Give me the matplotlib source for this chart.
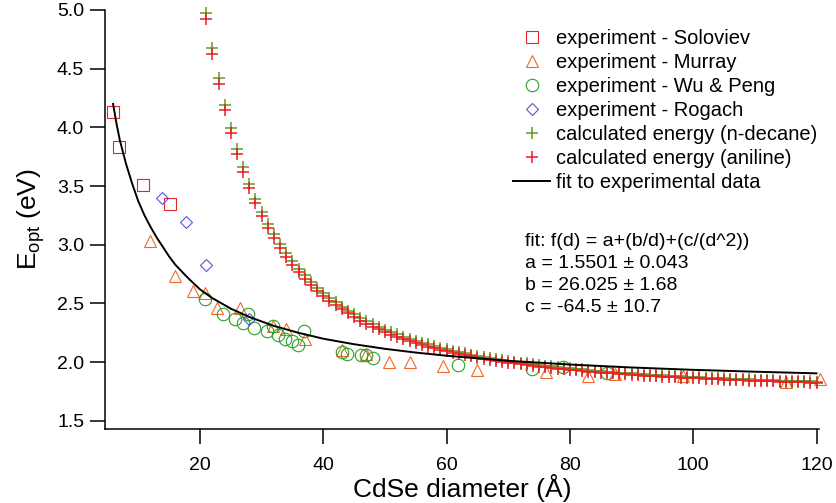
import matplotlib
matplotlib.use('Agg')
import matplotlib.pyplot as plt

plt.rcParams['font.family'] = ['Liberation Sans', 'DejaVu Sans']
plt.rcParams['mathtext.fontset'] = 'custom'
plt.rcParams['mathtext.rm'] = 'Liberation Sans'
plt.rcParams['mathtext.it'] = 'Liberation Sans:italic'

# ---------------- data ----------------
soloviev_d = [5.9, 6.9, 10.8, 15.1]
soloviev_e = [4.13, 3.83, 3.51, 3.35]

murray_d = [11.9, 15.9, 18.9, 20.8, 22.8, 26.5, 31.9, 33.9, 37.1, 43.1, 46.9,
            50.6, 54.0, 59.4, 64.9, 76.2, 83.0, 87.3, 98.4, 115.1, 120.5]
murray_e = [3.03, 2.73, 2.61, 2.59, 2.46, 2.46, 2.31, 2.28, 2.20, 2.10, 2.07,
            2.00, 2.00, 1.97, 1.93, 1.92, 1.88, 1.90, 1.88, 1.83, 1.855]

wupeng_d = [20.8, 23.7, 25.7, 27.0, 27.8, 28.8, 30.8, 31.8, 32.7, 33.8, 34.9,
            35.9, 36.9, 43.1, 43.8, 46.1, 46.9, 48.0, 61.9, 73.9, 78.8, 86.0]
wupeng_e = [2.54, 2.41, 2.37, 2.33, 2.41, 2.29, 2.27, 2.31, 2.23, 2.20, 2.18,
            2.15, 2.27, 2.09, 2.07, 2.06, 2.06, 2.04, 1.98, 1.94, 1.96, 1.91]

rogach_d = [13.8, 17.8, 20.9, 28.0]
rogach_e = [3.40, 3.19, 2.83, 2.37]

calc_d = [21, 22, 23, 24, 25, 26, 27, 28, 29, 30,
          31, 32, 33, 34, 35, 36, 37, 38, 39, 40,
          41, 42, 43, 44, 45, 46, 47, 48, 49, 50,
          51, 52, 53, 54, 55, 56, 57, 58, 59, 60,
          61, 62, 63, 64, 65, 66, 67, 68, 69, 70,
          71, 72, 73, 74, 75, 76, 77, 78, 79, 80,
          81, 82, 83, 84, 85, 86, 87, 88, 89, 90,
          91, 92, 93, 94, 95, 96, 97, 98, 99, 100,
          101, 102, 103, 104, 105, 106, 107, 108, 109, 110,
          111, 112, 113, 114, 115, 116, 117, 118, 119, 120]

decane_e = [4.972, 4.676, 4.417, 4.191, 3.992, 3.817, 3.659, 3.519, 3.393, 3.280,
            3.179, 3.088, 3.005, 2.930, 2.860, 2.797, 2.739, 2.685, 2.636, 2.590,
            2.548, 2.509, 2.473, 2.439, 2.407, 2.378, 2.350, 2.324, 2.300, 2.277,
            2.256, 2.236, 2.217, 2.199, 2.182, 2.166, 2.151, 2.137, 2.123, 2.110,
            2.098, 2.087, 2.076, 2.065, 2.055, 2.045, 2.036, 2.028, 2.019, 2.011,
            2.004, 1.996, 1.989, 1.983, 1.976, 1.970, 1.964, 1.959, 1.953, 1.948,
            1.943, 1.938, 1.933, 1.929, 1.924, 1.920, 1.916, 1.912, 1.908, 1.905,
            1.901, 1.898, 1.894, 1.891, 1.888, 1.885, 1.882, 1.880, 1.877, 1.874,
            1.872, 1.869, 1.867, 1.864, 1.862, 1.860, 1.858, 1.856, 1.854, 1.852,
            1.850, 1.848, 1.846, 1.844, 1.843, 1.841, 1.839, 1.838, 1.836, 1.835]

aniline_e = [4.922, 4.628, 4.371, 4.147, 3.950, 3.777, 3.620, 3.481, 3.357, 3.245,
             3.145, 3.055, 2.973, 2.899, 2.830, 2.768, 2.711, 2.657, 2.609, 2.564,
             2.522, 2.484, 2.449, 2.415, 2.384, 2.355, 2.328, 2.302, 2.279, 2.256,
             2.235, 2.216, 2.197, 2.180, 2.163, 2.147, 2.133, 2.119, 2.105, 2.093,
             2.081, 2.070, 2.059, 2.049, 2.039, 2.029, 2.020, 2.013, 2.004, 1.996,
             1.989, 1.982, 1.975, 1.969, 1.962, 1.956, 1.950, 1.945, 1.940, 1.935,
             1.930, 1.925, 1.920, 1.916, 1.912, 1.908, 1.904, 1.900, 1.896, 1.893,
             1.889, 1.886, 1.883, 1.880, 1.877, 1.874, 1.871, 1.869, 1.866, 1.864,
             1.862, 1.859, 1.857, 1.854, 1.852, 1.850, 1.848, 1.846, 1.844, 1.842,
             1.841, 1.839, 1.837, 1.835, 1.834, 1.832, 1.830, 1.829, 1.827, 1.826]

fit_d = [5.9, 6.5, 7, 8, 9, 10, 11, 12, 13, 14, 15, 16, 18, 20, 22, 25, 28,
         32, 36, 40, 45, 50, 55, 60, 70, 80, 90, 100, 110, 120]
fit_e = [4.20, 4.02, 3.89, 3.69, 3.52, 3.37, 3.25, 3.15, 3.06, 2.98, 2.90,
         2.83, 2.72, 2.62, 2.546, 2.456, 2.385, 2.309, 2.25, 2.20, 2.153,
         2.114, 2.082, 2.055, 2.012, 1.980, 1.955, 1.935, 1.919, 1.905]

x_ticks = [20, 40, 60, 80, 100, 120]
y_ticks = [1.5, 2.0, 2.5, 3.0, 3.5, 4.0, 4.5, 5.0]
y_tick_labels = ['1.5', '2.0', '2.5', '3.0', '3.5', '4.0', '4.5', '5.0']

fit_text = ['fit: f(d) = a+(b/d)+(c/(d^2))',
            'a = 1.5501 \u00b1 0.043',
            'b = 26.025 \u00b1 1.68',
            'c = -64.5 \u00b1 10.7']

# ---------------- figure ----------------
W, H = 836, 503
fig = plt.figure(figsize=(W / 100, H / 100), dpi=100)
ax = fig.add_axes([105 / W, 1 - 429 / H, (819 - 105) / W, (429 - 10) / H])

mew = 0.8
ax.plot(soloviev_d, soloviev_e, ls='none', marker='s', ms=8, mfc='none',
        mec='#e0262c', mew=mew, label='experiment - Soloviev', clip_on=False)
ax.plot(murray_d, murray_e, ls='none', marker='^', ms=8, mfc='none',
        mec='#ee6a28', mew=mew, label='experiment - Murray', clip_on=False)
ax.plot(wupeng_d, wupeng_e, ls='none', marker='o', ms=9, mfc='none',
        mec='#2e9e2a', mew=mew, label='experiment - Wu & Peng', clip_on=False)
ax.plot(rogach_d, rogach_e, ls='none', marker='D', ms=6, mfc='none',
        mec='#5656e0', mew=mew, label='experiment - Rogach', clip_on=False)
ax.plot(calc_d, decane_e, ls='none', marker='+', ms=8.6, mew=1.1,
        color='#5c9c24', label='calculated energy (n-decane)', clip_on=False)
ax.plot(calc_d, aniline_e, ls='none', marker='+', ms=8.6, mew=1.1,
        color='#ec1c24', label='calculated energy (aniline)', clip_on=False)
ax.plot(fit_d, fit_e, color='black', lw=1.4, label='fit to experimental data')

ax.set_xlim(4.59, 120.4)
ax.set_ylim(1.431, 5.0)
ax.set_xticks(x_ticks)
ax.set_xticklabels([str(t) for t in x_ticks])
ax.set_yticks(y_ticks)
ax.set_yticklabels(y_tick_labels)

for s in ['top', 'right']:
    ax.spines[s].set_visible(False)
for s in ['left', 'bottom']:
    ax.spines[s].set_linewidth(1.1)
ax.tick_params(axis='both', direction='out', length=11, width=1.1,
               labelsize=14, color='black')
ax.tick_params(axis='x', pad=9)
ax.tick_params(axis='y', pad=4)

ax.set_xlabel('CdSe diameter (\u00c5)', fontsize=19, labelpad=0)
ax.set_ylabel('E$_{\\mathrm{opt}}$ (eV)', fontsize=19, labelpad=7)

leg = ax.legend(loc='upper left', bbox_to_anchor=(513 / W, 1 - 29 / H),
                bbox_transform=fig.transFigure, frameon=False, fontsize=14.5,
                borderpad=0, borderaxespad=0, handlelength=1.85,
                handletextpad=0.28, labelspacing=0.25, numpoints=1)

for i, t in enumerate(fit_text):
    fig.text(525 / W, 1 - (242 + 22 * i) / H, t, fontsize=14, va='center',
             ha='left')

fig.savefig('out.png', dpi=100)
